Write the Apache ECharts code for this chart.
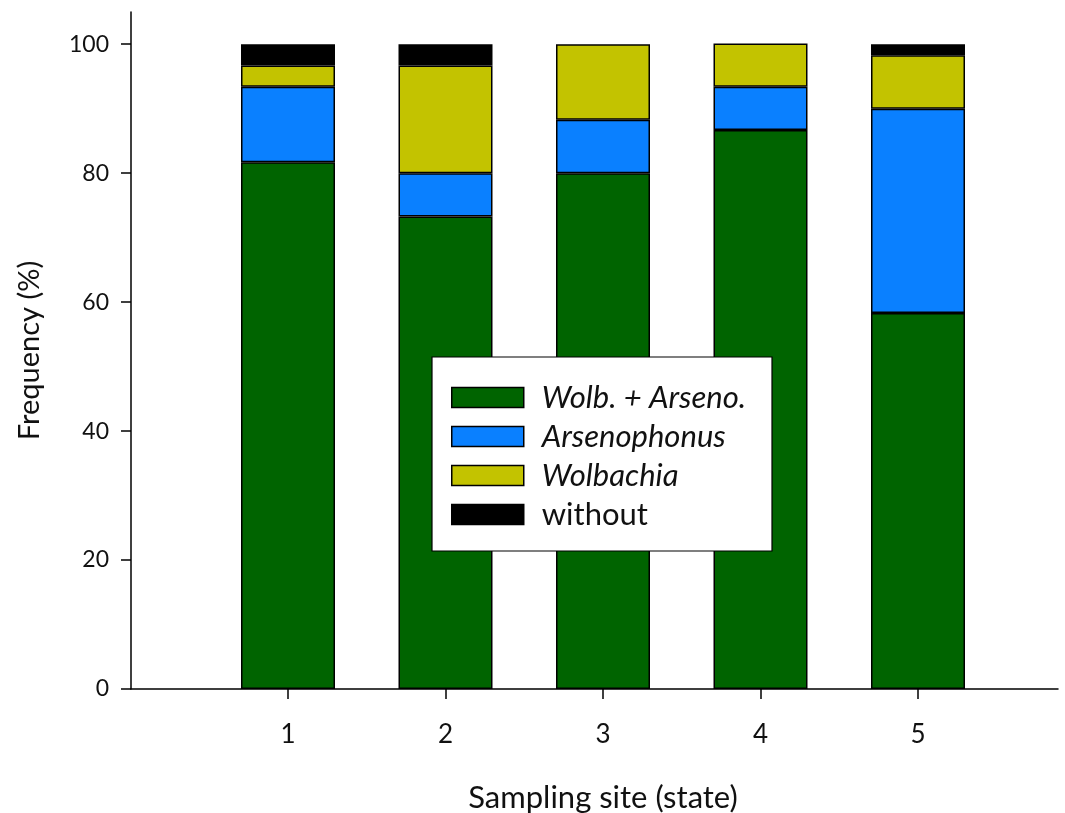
<!DOCTYPE html>
<html>
<head>
<meta charset="utf-8">
<script src="https://cdn.jsdelivr.net/npm/echarts@6/dist/echarts.min.js"></script>
<style>
  html, body { margin: 0; padding: 0; background: #fff; }
  #chart { width: 1065px; height: 813px; }
</style>
</head>
<body>
<div id="chart"></div>
<script>
// Sampling sites (state) and infection frequencies (%)
const sites = ['1', '2', '3', '4', '5'];
const wolbArseno = [81.7, 73.3, 80.0, 86.7, 58.3];
const arsenophonus = [11.7, 6.7, 8.3, 6.7, 31.7];
const wolbachia = [3.3, 16.7, 11.7, 6.7, 8.3];
const without = [3.3, 3.3, 0, 0, 1.7];
const yTicks = [0, 20, 40, 60, 80, 100];

const seriesDefs = [
  { name: 'Wolb. + Arseno.', values: wolbArseno, color: '#006400', italic: true },
  { name: 'Arsenophonus', values: arsenophonus, color: '#0a80ff', italic: true },
  { name: 'Wolbachia', values: wolbachia, color: '#c3c300', italic: true },
  { name: 'without', values: without, color: '#000000', italic: false }
];

const FONT = 'Lato, "Open Sans", sans-serif';
const TEXT = '#111111';
const axisStroke = { color: '#000', width: 1.5 };

const chart = echarts.init(document.getElementById('chart'), null, { renderer: 'canvas' });

chart.setOption({
  animation: false,
  backgroundColor: '#ffffff',
  // grid 0 carries the frame axes, grid 1 the category bands for the bars
  grid: [
    { left: 131, right: 7, top: 12, bottom: 124, outerBoundsMode: 'none' },
    { left: 209.25, right: 68.25, top: 12, bottom: 124, outerBoundsMode: 'none' }
  ],
  xAxis: [
    {
      gridIndex: 0,
      type: 'value',
      min: 0,
      max: 1,
      splitLine: { show: false },
      axisLine: { show: true, onZero: false, lineStyle: axisStroke },
      axisTick: { show: false },
      axisLabel: { show: false }
    },
    {
      gridIndex: 1,
      type: 'category',
      data: sites,
      name: 'Sampling site (state)',
      nameLocation: 'middle',
      nameGap: 93,
      nameTextStyle: { fontFamily: FONT, fontSize: 31, color: TEXT },
      axisLine: { show: false },
      axisTick: { show: true, alignWithLabel: true, interval: 0, length: 10, lineStyle: axisStroke },
      axisLabel: { interval: 0, margin: 33, fontFamily: FONT, fontSize: 26, color: TEXT },
      splitLine: { show: false }
    }
  ],
  yAxis: [
    {
      gridIndex: 0,
      type: 'value',
      min: 0,
      max: 105,
      name: 'Frequency (%)',
      nameLocation: 'middle',
      nameGap: 87,
      nameRotate: 90,
      nameTextStyle: { fontFamily: FONT, fontSize: 29, color: TEXT },
      splitLine: { show: false },
      axisLine: { show: true, lineStyle: axisStroke },
      axisTick: { show: true, inside: false, length: 10, customValues: yTicks, lineStyle: axisStroke },
      axisLabel: { customValues: yTicks, margin: 22, fontFamily: FONT, fontSize: 23, color: TEXT }
    },
    {
      gridIndex: 1,
      type: 'value',
      min: 0,
      max: 105,
      show: false,
      splitLine: { show: false }
    }
  ],
  legend: {
    orient: 'vertical',
    left: 451,
    top: 382,
    itemWidth: 72,
    itemHeight: 20,
    itemGap: 8,
    padding: 0,
    z: 10,
    icon: 'rect',
    selectedMode: false,
    itemStyle: { borderColor: '#000', borderWidth: 1.5 },
    data: seriesDefs.map(d => ({
      name: d.name,
      textStyle: { fontStyle: d.italic ? 'italic' : 'normal' }
    })),
    textStyle: { fontFamily: FONT, fontSize: 31, color: TEXT, padding: [0, 0, 0, 13] }
  },
  graphic: [{
    type: 'rect',
    z: 8,
    shape: { x: 432, y: 357, width: 340, height: 194 },
    style: { fill: '#ffffff', stroke: '#000', lineWidth: 1.2 }
  }],
  series: seriesDefs.map(d => ({
    name: d.name,
    type: 'bar',
    xAxisIndex: 1,
    yAxisIndex: 1,
    stack: 'total',
    barWidth: 94,
    itemStyle: { color: d.color, borderColor: '#000', borderWidth: 1.5 },
    // empty segments get no outline so they leave no stray line on top of a bar
    data: d.values.map(v => (v === 0 ? { value: v, itemStyle: { borderWidth: 0 } } : v))
  }))
});
</script>
</body>
</html>
